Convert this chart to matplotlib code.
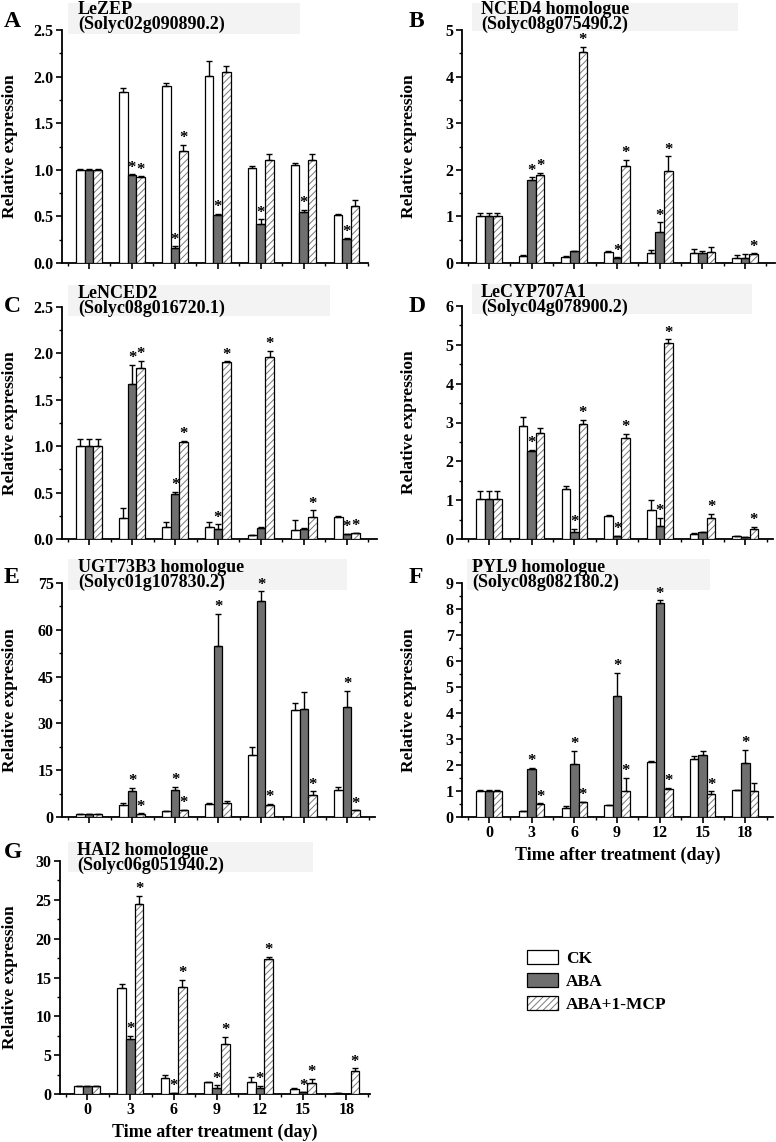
import numpy as np
import matplotlib
matplotlib.use("Agg")
import matplotlib.pyplot as plt
from matplotlib.patches import Patch, Rectangle
from matplotlib.legend_handler import HandlerTuple

plt.rcParams['font.family'] = ['Liberation Serif', 'DejaVu Serif']
plt.rcParams['font.weight'] = 'bold'
plt.rcParams['hatch.linewidth'] = 0.7

days = ['0', '3', '6', '9', '12', '15', '18']
series_names = ['CK', 'ABA', 'ABA+1-MCP']

# ---- Panel A: LeZEP
a_ck = [1.00, 1.83, 1.90, 2.01, 1.02, 1.05, 0.52]
a_ck_err = [0.01, 0.05, 0.03, 0.16, 0.02, 0.02, 0.005]
a_aba = [1.00, 0.94, 0.16, 0.52, 0.42, 0.55, 0.26]
a_aba_err = [0.01, 0.01, 0.02, 0.01, 0.05, 0.02, 0.005]
a_mcp = [1.00, 0.92, 1.20, 2.05, 1.10, 1.10, 0.61]
a_mcp_err = [0.01, 0.01, 0.07, 0.06, 0.07, 0.07, 0.07]
a_star_aba = [1, 2, 3, 4, 5, 6]
a_star_mcp = [1, 2]

# ---- Panel B: NCED4 homologue
b_ck = [1.00, 0.14, 0.13, 0.24, 0.21, 0.21, 0.11]
b_ck_err = [0.07, 0.04, 0.01, 0.01, 0.06, 0.09, 0.06]
b_aba = [1.00, 1.79, 0.25, 0.11, 0.66, 0.21, 0.11]
b_aba_err = [0.07, 0.05, 0.01, 0.01, 0.21, 0.05, 0.08]
b_mcp = [1.00, 1.88, 4.52, 2.09, 1.98, 0.23, 0.20]
b_mcp_err = [0.07, 0.06, 0.12, 0.12, 0.31, 0.11, 0.01]
b_star_aba = [1, 3, 4]
b_star_mcp = [1, 2, 3, 4, 6]

# ---- Panel C: LeNCED2
c_ck = [1.00, 0.23, 0.13, 0.13, 0.04, 0.10, 0.24]
c_ck_err = [0.08, 0.10, 0.05, 0.05, 0.005, 0.10, 0.005]
c_aba = [1.00, 1.67, 0.49, 0.11, 0.12, 0.11, 0.05]
c_aba_err = [0.08, 0.21, 0.02, 0.05, 0.005, 0.01, 0.005]
c_mcp = [1.00, 1.84, 1.05, 1.91, 1.96, 0.24, 0.06]
c_mcp_err = [0.08, 0.08, 0.005, 0.005, 0.07, 0.07, 0.005]
c_star_aba = [1, 2, 3, 6]
c_star_mcp = [1, 2, 3, 4, 5, 6]

# ---- Panel D: LeCYP707A1
d_ck = [1.03, 2.91, 1.29, 0.60, 0.75, 0.14, 0.07]
d_ck_err = [0.21, 0.22, 0.07, 0.01, 0.26, 0.01, 0.01]
d_aba = [1.03, 2.26, 0.19, 0.07, 0.33, 0.18, 0.05]
d_aba_err = [0.21, 0.03, 0.08, 0.01, 0.21, 0.01, 0.01]
d_mcp = [1.03, 2.74, 2.96, 2.59, 5.06, 0.54, 0.26]
d_mcp_err = [0.21, 0.11, 0.11, 0.12, 0.08, 0.11, 0.05]
d_star_aba = [1, 2, 3, 4]
d_star_mcp = [2, 3, 4, 5, 6]

# ---- Panel E: UGT73B3 homologue
e_ck = [0.96, 3.75, 1.8, 4.3, 20.0, 34.3, 8.5]
e_ck_err = [0.05, 0.8, 0.1, 0.2, 2.5, 2.3, 1.1]
e_aba = [0.9, 8.25, 8.6, 54.9, 69.1, 34.5, 35.1]
e_aba_err = [0.05, 1.1, 1.0, 10.2, 3.2, 5.5, 5.4]
e_mcp = [0.9, 1.07, 2.1, 4.4, 4.0, 7.2, 2.1]
e_mcp_err = [0.05, 0.1, 0.2, 0.6, 0.2, 1.0, 0.1]
e_star_aba = [1, 2, 3, 4, 6]
e_star_mcp = [1, 2, 4, 5, 6]

# ---- Panel F: PYL9 homologue
f_ck = [1.00, 0.23, 0.36, 0.45, 2.12, 2.25, 1.03]
f_ck_err = [0.02, 0.01, 0.06, 0.01, 0.04, 0.10, 0.01]
f_aba = [1.00, 1.84, 2.03, 4.64, 8.23, 2.38, 2.07]
f_aba_err = [0.02, 0.06, 0.52, 0.91, 0.11, 0.15, 0.51]
f_mcp = [1.00, 0.51, 0.58, 0.99, 1.07, 0.87, 0.99]
f_mcp_err = [0.02, 0.01, 0.01, 0.51, 0.06, 0.12, 0.33]
f_star_aba = [1, 2, 3, 4, 6]
f_star_mcp = [1, 2, 3, 4, 5]

# ---- Panel G: HAI2 homologue
g_ck = [0.98, 13.7, 2.05, 1.5, 1.55, 0.68, 0.17]
g_ck_err = [0.05, 0.45, 0.35, 0.05, 0.65, 0.05, 0.02]
g_aba = [1.0, 7.06, 0.10, 0.8, 0.8, 0.2, 0.05]
g_aba_err = [0.05, 0.45, 0.02, 0.3, 0.25, 0.02, 0.01]
g_mcp = [1.0, 24.4, 13.8, 6.45, 17.4, 1.37, 3.0]
g_mcp_err = [0.05, 1.1, 0.9, 0.95, 0.3, 0.55, 0.3]
g_star_aba = [1, 2, 3, 4, 5]
g_star_mcp = [1, 2, 3, 4, 5, 6]

W, H = 776, 1142
fig = plt.figure(figsize=(W / 100, H / 100), dpi=100)


def rect(l, r, t, b):
    return [l / W, 1 - b / H, (r - l) / W, (b - t) / H]


panels = [
    dict(letter='A', gene='LeZEP', sid='(Solyc02g090890.2)',
         data=(a_ck, a_ck_err, a_aba, a_aba_err, a_mcp, a_mcp_err, a_star_aba, a_star_mcp),
         box=(62, 368, 30, 263), xlim=(-0.63, 6.49), ylim=2.5, major=0.5,
         fmt='%.1f', title_xy=(78, 1), bg=(68, 300, 3, 34), letter_xy=(4, 27), xl=False),
    dict(letter='B', gene='NCED4 homologue', sid='(Solyc08g075490.2)',
         data=(b_ck, b_ck_err, b_aba, b_aba_err, b_mcp, b_mcp_err, b_star_aba, b_star_mcp),
         box=(462, 775, 30, 263), xlim=(-0.63, 6.7), ylim=5, major=1,
         fmt='%d', title_xy=(481, 1), bg=(472, 738, 3, 31), letter_xy=(409, 27), xl=False),
    dict(letter='C', gene='LeNCED2', sid='(Solyc08g016720.1)',
         data=(c_ck, c_ck_err, c_aba, c_aba_err, c_mcp, c_mcp_err, c_star_aba, c_star_mcp),
         box=(62, 377, 307, 539), xlim=(-0.63, 6.7), ylim=2.5, major=0.5,
         fmt='%.1f', title_xy=(78, 285), bg=(68, 330, 285, 316), letter_xy=(4, 312), xl=False),
    dict(letter='D', gene='LeCYP707A1', sid='(Solyc04g078900.2)',
         data=(d_ck, d_ck_err, d_aba, d_aba_err, d_mcp, d_mcp_err, d_star_aba, d_star_mcp),
         box=(462, 773, 306, 539), xlim=(-0.63, 6.65), ylim=6, major=1,
         fmt='%d', title_xy=(481, 284), bg=(472, 752, 284, 314), letter_xy=(409, 312), xl=False),
    dict(letter='E', gene='UGT73B3 homologue', sid='(Solyc01g107830.2)',
         data=(e_ck, e_ck_err, e_aba, e_aba_err, e_mcp, e_mcp_err, e_star_aba, e_star_mcp),
         box=(62, 375, 583, 817), xlim=(-0.63, 6.65), ylim=75, major=15,
         fmt='%d', title_xy=(78, 559), bg=(68, 347, 559, 590), letter_xy=(4, 583), xl=False),
    dict(letter='F', gene='PYL9 homologue', sid='(Solyc08g082180.2)',
         data=(f_ck, f_ck_err, f_aba, f_aba_err, f_mcp, f_mcp_err, f_star_aba, f_star_mcp),
         box=(462, 773, 583, 817), xlim=(-0.63, 6.65), ylim=9, major=1,
         fmt='%d', title_xy=(472, 559), bg=(467, 710, 559, 590), letter_xy=(409, 583), xl=True),
    dict(letter='G', gene='HAI2 homologue', sid='(Solyc06g051940.2)',
         data=(g_ck, g_ck_err, g_aba, g_aba_err, g_mcp, g_mcp_err, g_star_aba, g_star_mcp),
         box=(60, 370, 861, 1094), xlim=(-0.63, 6.55), ylim=30, major=5,
         fmt='%d', title_xy=(77, 842), bg=(68, 313, 842, 872), letter_xy=(4, 858), xl=True),
]

bw = 0.2
x = np.arange(len(days))
TICK_FS = 11.5
ABA_COLOR = '#6f6f6f'
HATCH_COLOR = '#7a7a7a'

for p in panels:
    l, r, t, b = p['box']
    # title background
    bl, br, bt, bb = p['bg']
    fig.patches.append(Rectangle((bl / W, 1 - bb / H), (br - bl) / W, (bb - bt) / H,
                                 transform=fig.transFigure, facecolor='#f3f3f3',
                                 edgecolor='none', zorder=-5))
    ax = fig.add_axes(rect(l, r, t, b))
    ax.patch.set_alpha(0)
    ck, ck_e, aba, aba_e, mcp, mcp_e, s_aba, s_mcp = p['data']
    zeros = np.zeros(len(days))
    ekw = dict(ecolor='black', elinewidth=1.0, capsize=2.5, capthick=1.0)
    ax.bar(x - bw, ck, bw, color='white', edgecolor='black', linewidth=0.9,
           yerr=[zeros, ck_e], error_kw=ekw, zorder=3)
    ax.bar(x, aba, bw, color=ABA_COLOR, edgecolor='black', linewidth=0.9,
           yerr=[zeros, aba_e], error_kw=ekw, zorder=3)
    ax.bar(x + bw, mcp, bw, color='white', edgecolor=HATCH_COLOR, hatch='/////',
           linewidth=0, zorder=3)
    ax.bar(x + bw, mcp, bw, fill=False, edgecolor='black', linewidth=0.9,
           yerr=[zeros, mcp_e], error_kw=ekw, zorder=4)
    for i in s_aba:
        ax.annotate('*', (x[i], aba[i] + aba_e[i]), xytext=(0, -1),
                    textcoords='offset points', ha='center', va='bottom',
                    fontsize=12, fontweight='bold', zorder=5, annotation_clip=False)
    for i in s_mcp:
        ax.annotate('*', (x[i] + bw, mcp[i] + mcp_e[i]), xytext=(0, -1),
                    textcoords='offset points', ha='center', va='bottom',
                    fontsize=12, fontweight='bold', zorder=5, annotation_clip=False)

    ax.set_xlim(*p['xlim'])
    ax.set_ylim(0, p['ylim'])
    ax.set_yticks(np.arange(0, p['ylim'] + p['major'] / 2, p['major']))
    ax.set_yticks(np.arange(0, p['ylim'] + 1e-9, p['major'] / 2), minor=True)
    ax.yaxis.set_major_formatter(matplotlib.ticker.FormatStrFormatter(p['fmt']))
    ax.set_xticks(x)
    ax.set_xticks(np.arange(-0.5, 6.6, 1.0), minor=True)
    if p['xl']:
        ax.set_xticklabels(days, fontsize=TICK_FS, fontweight='bold')
        ax.set_xlabel('Time after treatment (day)', fontsize=13, fontweight='bold', labelpad=4)
    else:
        ax.set_xticklabels([])
    for s in ['top', 'right']:
        ax.spines[s].set_visible(False)
    for s in ['left', 'bottom']:
        ax.spines[s].set_linewidth(1.3)
    ax.tick_params(axis='both', which='major', direction='out', length=4, width=1.2,
                   labelsize=TICK_FS, pad=2)
    ax.tick_params(axis='both', which='minor', direction='out', length=2.5, width=1.0)
    for lab in ax.get_yticklabels():
        lab.set_fontweight('bold')
    ax.set_ylabel('Relative expression', fontsize=12.5, fontweight='bold')
    ax.yaxis.set_label_coords((18 - l) / (r - l) if p['letter'] in 'ACEG' else (417 - l) / (r - l), 0.5)

    tx, ty = p['title_xy']
    fig.text(tx / W, 1 - ty / H, p['gene'] + '\n' + p['sid'], fontsize=13, fontweight='bold',
             va='top', ha='left', linespacing=0.82)
    lx, ly = p['letter_xy']
    fig.text(lx / W, 1 - ly / H, p['letter'], fontsize=17, fontweight='bold', va='baseline', ha='left')

# legend
h_ck = Patch(facecolor='white', edgecolor='black', linewidth=0.9)
h_aba = Patch(facecolor=ABA_COLOR, edgecolor='black', linewidth=0.9)
h_mcp_fill = Patch(facecolor='white', edgecolor=HATCH_COLOR, hatch='/////', linewidth=0)
h_mcp_edge = Patch(fill=False, edgecolor='black', linewidth=0.9)
fig.legend(handles=[h_ck, h_aba, (h_mcp_fill, h_mcp_edge)], labels=series_names,
           handler_map={tuple: HandlerTuple(ndivide=1)},
           loc='upper left', bbox_to_anchor=(527 / W, 1 - 950 / H),
           frameon=False, prop=dict(weight='bold', size=12.5),
           handlelength=1.8, handleheight=0.85, labelspacing=0.35, handletextpad=0.45,
           borderaxespad=0, borderpad=0)

fig.savefig('out.png', dpi=100)
